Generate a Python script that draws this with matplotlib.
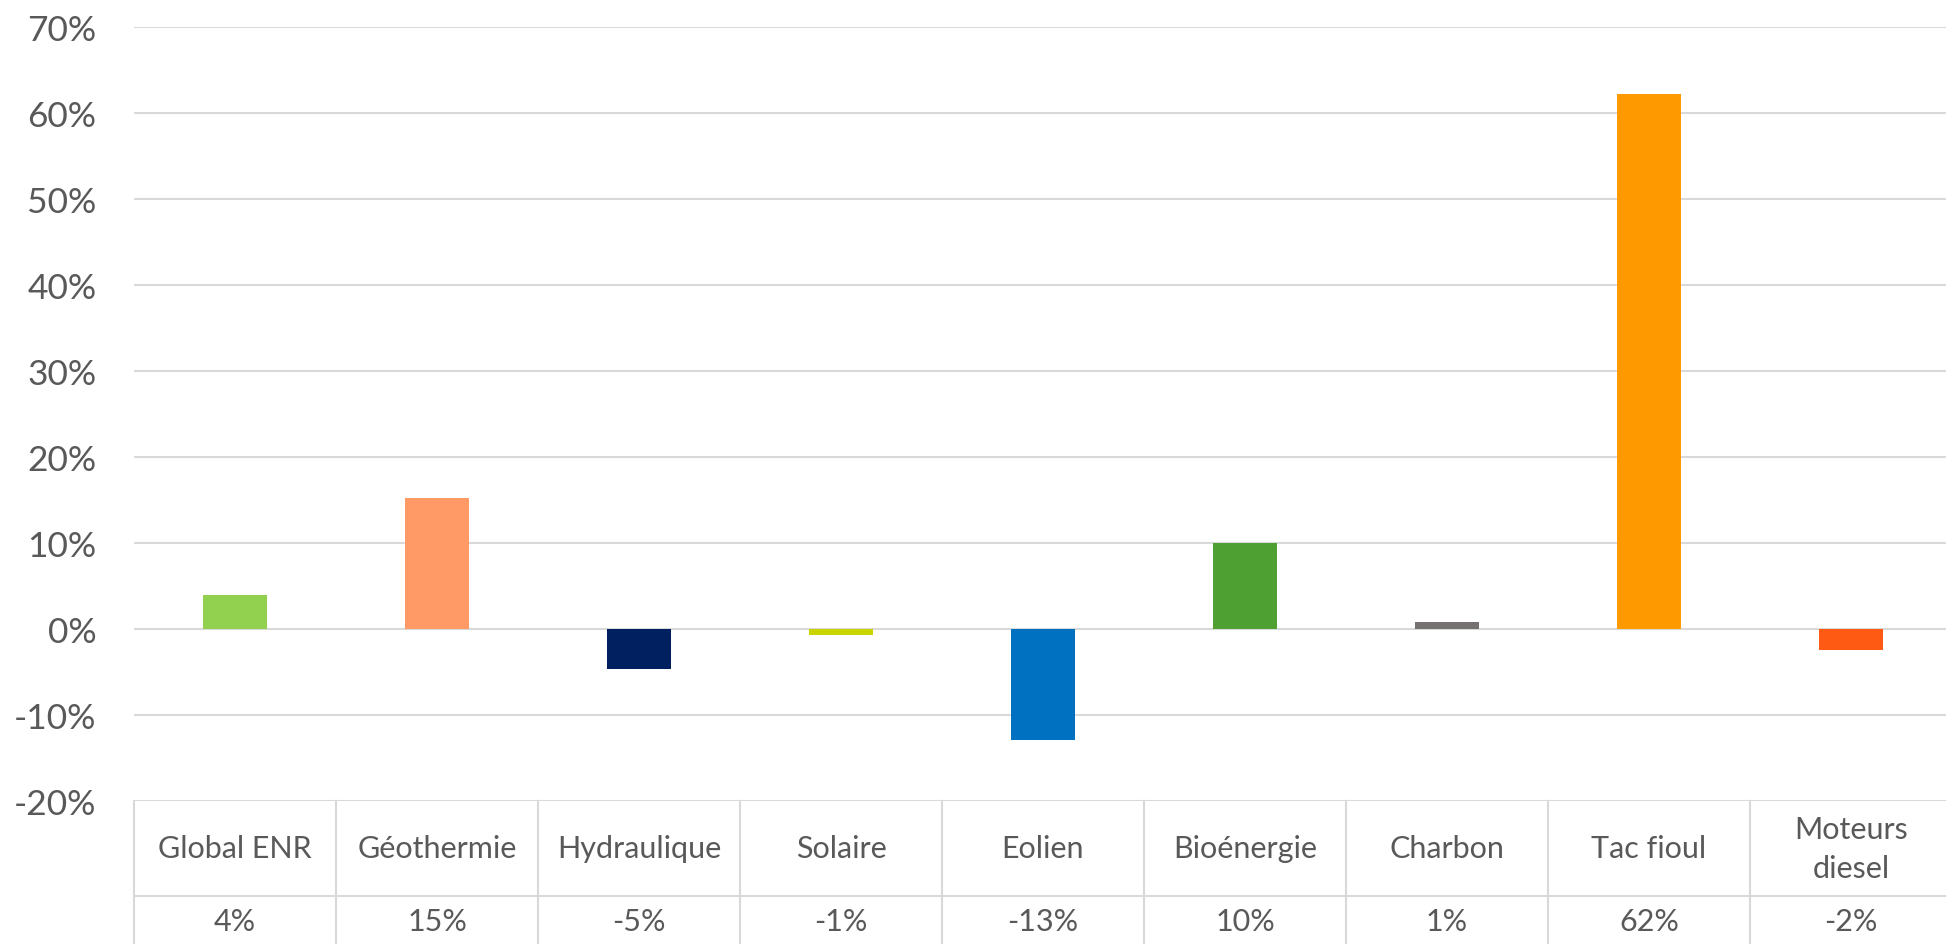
import numpy as np
import matplotlib
matplotlib.use("Agg")
import matplotlib.pyplot as plt
from matplotlib.ticker import PercentFormatter


# -----------------------------
# Data
# -----------------------------
categories = ["Global ENR", "Géothermie", "Hydraulique", "Solaire", "Eolien",
              "Bioénergie", "Charbon", "Tac fioul", "Moteurs\ndiesel"]
values = [0.040, 0.152, -0.046, -0.007, -0.129, 0.100, 0.008, 0.622, -0.024]
colors = ["#92D050", "#FF9966", "#002060", "#C9D400", "#0070C0",
          "#4EA033", "#767171", "#FF9900", "#FF5A14"]
y_ticks = [-0.2, -0.1, 0.0, 0.1, 0.2, 0.3, 0.4, 0.5, 0.6, 0.7]

TEXT = "#595959"
GRID = "#D9D9D9"

plt.rcParams["font.family"] = ["Lato", "DejaVu Sans"]
plt.rcParams["axes.unicode_minus"] = False

# -----------------------------
# Figure
# -----------------------------
W, H = 1946, 945
fig = plt.figure(figsize=(W / 100, H / 100), dpi=100)
left_px, right_px, top_px, bottom_px = 134, 1952, 28, 802
ax = fig.add_axes([left_px / W, 1 - bottom_px / H,
                   (right_px - left_px) / W, (bottom_px - top_px) / H])

x = np.arange(len(categories))
ax.bar(x, values, width=0.32, color=colors, zorder=3)

ax.set_xlim(-0.5, len(categories) - 0.5)
ax.set_ylim(-0.2, 0.7)
ax.set_yticks(y_ticks)
ax.yaxis.set_major_formatter(PercentFormatter(1.0, decimals=0))
ax.tick_params(axis="y", length=0, pad=27, labelsize=25.5, labelcolor=TEXT)
ax.tick_params(axis="x", length=0, labelbottom=False)
ax.grid(axis="y", color=GRID, linewidth=1.5, zorder=0)
for s in ax.spines.values():
    s.set_visible(False)

# -----------------------------
# Data table under the chart
# -----------------------------
tr = ax.get_xaxis_transform()
axes_h = bottom_px - top_px
row1 = -95 / axes_h
row_bot = -0.2

ax.plot([-0.5, len(categories) - 0.5], [row1, row1], transform=tr,
        color=GRID, linewidth=1.5, clip_on=False)
for b in np.arange(-0.5, len(categories), 1.0):
    ax.plot([b, b], [0, row_bot], transform=tr, color=GRID,
            linewidth=1.5, clip_on=False)

for i, (cat, v) in enumerate(zip(categories, values)):
    ax.text(i, row1 / 2, cat, transform=tr, ha="center", va="center",
            fontsize=22, color=TEXT, linespacing=1.45)
    ax.text(i, -120 / axes_h, f"{v * 100:.0f}%", transform=tr,
            ha="center", va="center", fontsize=22, color=TEXT)

fig.savefig("out.png", dpi=100)
